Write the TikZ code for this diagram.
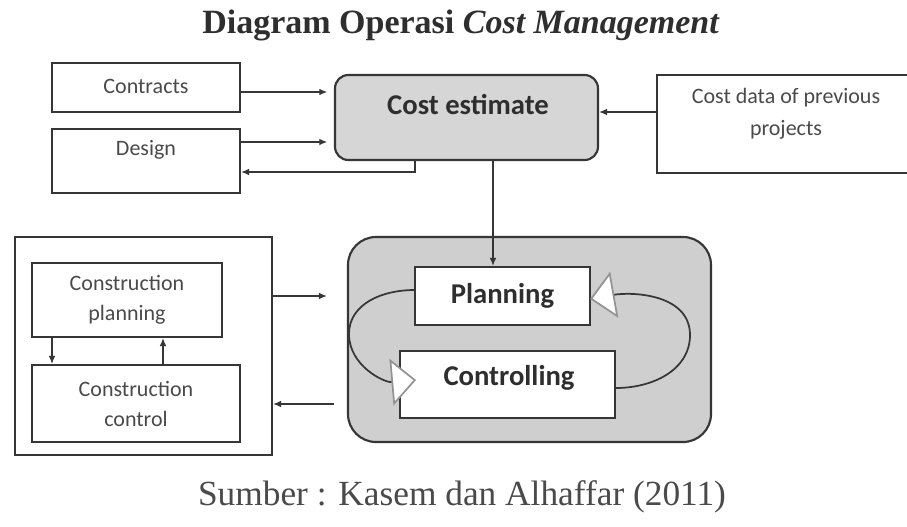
\documentclass[tikz,border=0pt]{standalone}
\usepackage{fontspec}
\setmainfont{Liberation Serif}
\newfontfamily\calfont{Carlito}
\usetikzlibrary{arrows.meta}
\definecolor{ln}{HTML}{363636}
\definecolor{txt}{HTML}{4A4A4A}
\definecolor{dk}{HTML}{2E2E2E}
\definecolor{fillA}{HTML}{D6D6D6}
\definecolor{fillB}{HTML}{CFCFCF}
\begin{document}
\begin{tikzpicture}[x=0.75pt,y=-0.75pt,
  sz/.style 2 args={minimum width=#1*0.75pt, minimum height=#2*0.75pt},
  box/.style={draw=ln, line width=1.6pt, fill=white, rectangle, inner sep=0pt},
  rbox/.style={box, rounded corners=10pt, fill=fillA},
  lbl/.style={font=\calfont\fontsize{16.5}{22.5}\selectfont, text=txt, align=center, inner sep=0pt},
  blbl/.style={font=\calfont\bfseries\fontsize{21.5}{26}\selectfont, text=dk, align=center, inner sep=0pt},
  conn/.style={draw=ln, line width=1pt, -{Latex[length=6pt,width=5pt]}},
  loopl/.style={draw=ln, line width=1.3pt, -{Triangle[length=18.5pt,width=35pt,fill=white,color=gray!85]}}
]
\fill[white] (0,0) rectangle (907,526);
\useasboundingbox (0,0) rectangle (907,526);

% title
\node[font=\bfseries\fontsize{25.5}{30}\selectfont, text=dk, inner sep=0pt] (title) at (461,25) {Diagram Operasi \textit{Cost Management}};

% top row
\node[box, sz={188}{49}] (contracts) at (146,87.5) {};
\node[lbl] (contractsT) at (146,86) {Contracts};
\node[box, sz={188}{64}] (design) at (146,161) {};
\node[lbl] (designT) at (146,150) {Design};
\node[rbox, sz={263}{85}] (costest) at (466.5,117.5) {};
\node[blbl] (costestT) at (468,105) {Cost estimate};
\node[box, sz={258}{98}] (costdata) at (786,124) {};
\node[lbl, font=\calfont\fontsize{16.5}{24}\selectfont] (costdataT) at (786,114) {Cost data of previous\\projects};

% left group
\node[box, sz={257}{218}] (outer) at (143.5,346) {};
\node[box, sz={190}{74}, lbl, draw=ln, line width=1.6pt, fill=white] (cplan) at (127,300) {Construction\\planning};
\node[box, sz={208}{77}, lbl, draw=ln, line width=1.6pt, fill=white] (cctrl) at (136,403.5) {Construction\\control};

% big loop box
\node[box, rounded corners=21pt, fill=fillB, sz={363}{205}] (big) at (529.5,339.5) {};
\node[box, sz={175}{58}, blbl, draw=ln, line width=1.6pt, fill=white] (planning) at (502.5,296) {Planning};
\node[box, sz={215}{67}] (controlling) at (507.5,384.5) {};
\node[blbl] (controllingT) at (509,378) {Controlling};

% connectors top
\draw[conn, shorten >=5pt] (contracts.east |- 0,92) -- (costest.west |- 0,92);
\draw[conn, shorten >=5pt] (design.east |- 0,142) -- (costest.west |- 0,142);
\draw[conn] (costest.south -| 415,0) |- (design.east |- 0,172);
\draw[conn] (costdata.west |- 0,112) -- (costest.east |- 0,112);
\draw[conn] (costest.south -| 493,0) -- (planning.north -| 493,0);

% left group connectors
\draw[conn] (cplan.south -| 52,0) -- (cctrl.north -| 52,0);
\draw[conn] (cctrl.north -| 163,0) -- (cplan.south -| 163,0);
\draw[conn, shorten >=15pt] (outer.east |- 0,296) -- (big.west |- 0,296);
\draw[conn, shorten <=10pt] (big.west |- 0,404) -- (outer.east |- 0,404);

% loop
\coordinate (ltip) at (416,380);
\coordinate (rtip) at (590,299);
\draw[loopl] (planning.west |- 0,290) to[out=180,in=90] (349,334) to[out=270,in=185] (ltip);
\draw[loopl] (controlling.east |- 0,388) to[out=0,in=270] (690,335) to[out=90,in=10] (rtip);

% source
\node[font=\fontsize{26.5}{30}\selectfont, text=txt, inner sep=0pt] (src) at (462,497) {Sumber : Kasem dan Alhaffar (2011)};
\end{tikzpicture}
\end{document}
